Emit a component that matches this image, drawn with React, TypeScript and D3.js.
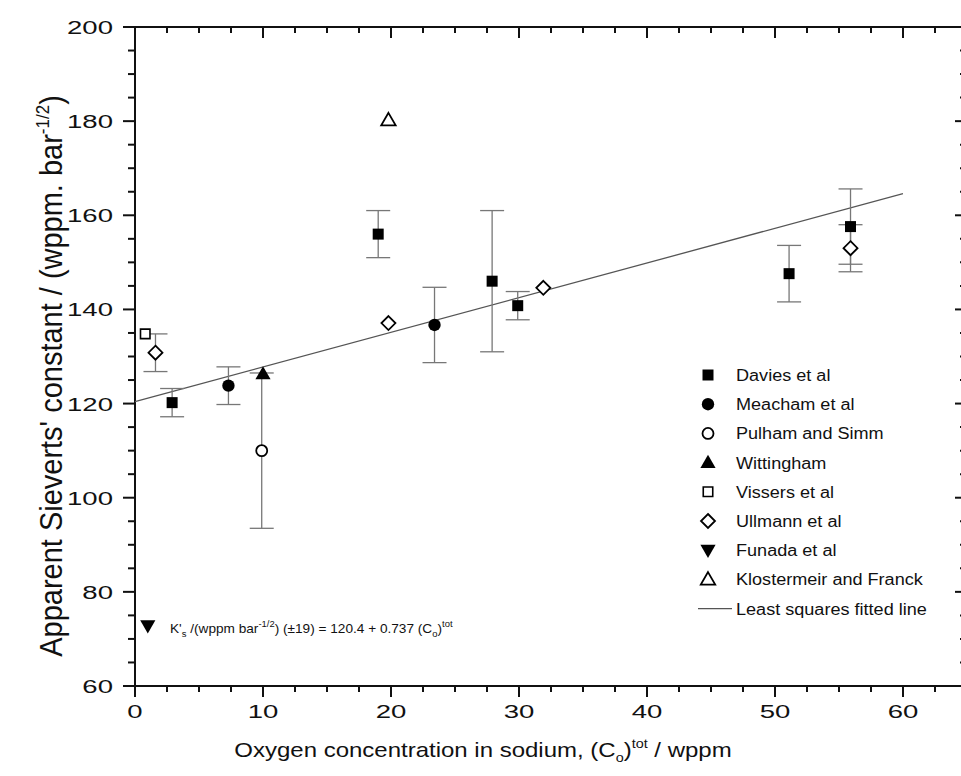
import React from "react"
import * as d3 from "d3"

// values
const daviesX = [2.9, 19, 27.9, 29.9, 51.1, 55.9]
const daviesY = [120.2, 156, 146, 140.8, 147.6, 157.6]
const daviesErr = [3, 5, 15, 3, 6, 8]

const meachamX = [7.3, 23.4]
const meachamY = [123.8, 136.7]
const meachamErr = [4, 8]

const pulhamX = [9.9]
const pulhamY = [110]
const pulhamErr = [16.5]

const wittinghamX = [10]
const wittinghamY = [126.3]

const vissersX = [0.8]
const vissersY = [134.8]

const ullmannX = [1.6, 19.8, 31.9, 55.9]
const ullmannY = [130.8, 137.1, 144.6, 153]
const ullmannErr = [4, 0, 0, 5]

const funadaX = [1.0]
const funadaY = [72.8]

const klosterX = [19.8]
const klosterY = [180.2]

const fitX = [0, 60]
const fitY = [120.4, 164.6]

const legendLabels = [
    "Davies et al",
    "Meacham et al",
    "Pulham and Simm",
    "Wittingham",
    "Vissers et al",
    "Ullmann et al",
    "Funada et al",
    "Klostermeir and Franck",
    "Least squares fitted line",
]

const xMajor = [0, 10, 20, 30, 40, 50, 60]
const yMajor = [60, 80, 100, 120, 140, 160, 180, 200]

const FONT = "'Liberation Sans', Arial, sans-serif"

const x = d3.scaleLinear().domain([0, 65]).range([135, 967])
const y = d3.scaleLinear().domain([60, 200]).range([686, 27])

const sq = d3.symbol().type(d3.symbolSquare).size(121)()
const circ = d3.symbol().type(d3.symbolCircle).size(120)()
const tri = d3.symbol().type(d3.symbolTriangle).size(100)()
const diam = "M0,-7L7,0L0,7L-7,0Z"

type MarkerKind = "sq" | "circ" | "ocirc" | "tri" | "osq" | "diam" | "dtri" | "otri"

function Marker({ kind, cx, cy }: { kind: MarkerKind, cx: number, cy: number }) {
    const t = `translate(${cx},${cy})`
    switch (kind) {
        case "sq": return <path d={sq} transform={t} fill="#000" />
        case "circ": return <path d={circ} transform={t} fill="#000" />
        case "ocirc": return <path d={d3.symbol().type(d3.symbolCircle).size(95)()} transform={t} fill="#fff" stroke="#000" strokeWidth={1.8} />
        case "tri": return <path d={tri} transform={t + " translate(0,1)"} fill="#000" />
        case "osq": return <path d={d3.symbol().type(d3.symbolSquare).size(90)()} transform={t} fill="#fff" stroke="#000" strokeWidth={1.6} />
        case "diam": return <path d={diam} transform={t} fill="#fff" stroke="#000" strokeWidth={1.8} />
        case "dtri": return <path d={tri} transform={t + " rotate(180) translate(0,1)"} fill="#000" />
        case "otri": return <path d={d3.symbol().type(d3.symbolTriangle).size(90)()} transform={t + " translate(0,1)"} fill="#fff" stroke="#000" strokeWidth={1.8} />
    }
}

function ErrorBars({ xs, ys, errs }: { xs: number[], ys: number[], errs: number[] }) {
    return (
        <g stroke="#777" strokeWidth={1.3} fill="none">
            {xs.map((d, i) => {
                if (!errs[i]) return null
                const px = x(d)
                const top = y(ys[i] + errs[i])
                const bot = y(ys[i] - errs[i])
                return (
                    <g key={i}>
                        <line x1={px} x2={px} y1={top} y2={bot} />
                        <line x1={px - 12} x2={px + 12} y1={top} y2={top} />
                        <line x1={px - 12} x2={px + 12} y1={bot} y2={bot} />
                    </g>
                )
            })}
        </g>
    )
}

function Series({ xs, ys, kind }: { xs: number[], ys: number[], kind: MarkerKind }) {
    return <g>{xs.map((d, i) => <Marker key={i} kind={kind} cx={x(d)} cy={y(ys[i])} />)}</g>
}

export default function App() {
    const xMinor = d3.range(0, 65.01, 2.5).filter(v => v % 10 !== 0)
    const yMinor = d3.range(60, 200.01, 5).filter(v => v % 20 !== 0)
    const fitLine = d3.line<number>().x(d => x(d)).y((d, i) => y(fitY[i]))
    const legendKinds: MarkerKind[] = ["sq", "circ", "ocirc", "tri", "osq", "diam", "dtri", "otri"]
    const x0 = x(0), x1 = x(65), y0 = y(60), y1 = y(200)

    return (
        <svg width={961} height={776} style={{ position: "absolute", left: 0, top: 0, background: "#fff" }}
            fontFamily={FONT}>
            <rect width={961} height={776} fill="#fff" />

            {/* frame */}
            <g stroke="#111" strokeWidth={2} fill="none">
                <line x1={x0} x2={x0} y1={y1 - 1} y2={y0 + 1} />
                <line x1={x0 - 1} x2={x1} y1={y0} y2={y0} />
                <line x1={x0} x2={x1} y1={y1} y2={y1} />
                <line x1={x1} x2={x1} y1={y1} y2={y0} />
                {xMajor.map(v => <g key={"xm" + v}>
                    <line x1={x(v)} x2={x(v)} y1={y0} y2={y0 + 11} />
                    <line x1={x(v)} x2={x(v)} y1={y1} y2={y1 + 11} />
                </g>)}
                {xMinor.map(v => <g key={"xn" + v}>
                    <line x1={x(v)} x2={x(v)} y1={y0} y2={y0 + 6} />
                    <line x1={x(v)} x2={x(v)} y1={y1} y2={y1 + 6} />
                </g>)}
                {yMajor.map(v => <g key={"ym" + v}>
                    <line x1={x0 - 12} x2={x0} y1={y(v)} y2={y(v)} />
                    <line x1={x1 - 12} x2={x1} y1={y(v)} y2={y(v)} />
                </g>)}
                {yMinor.map(v => <g key={"yn" + v}>
                    <line x1={x0 - 7} x2={x0} y1={y(v)} y2={y(v)} />
                    <line x1={x1 - 7} x2={x1} y1={y(v)} y2={y(v)} />
                </g>)}
            </g>

            {/* tick labels */}
            <g fontSize={19} fill="#111">
                {yMajor.map(v => (
                    <text key={"yl" + v} transform={`translate(${x0 - 22},${y(v) + 7}) scale(1.45,1)`} textAnchor="end">{v}</text>
                ))}
                {xMajor.map(v => (
                    <text key={"xl" + v} transform={`translate(${x(v)},${y0 + 32}) scale(1.45,1)`} textAnchor="middle">{v}</text>
                ))}
            </g>

            {/* axis titles */}
            <text transform={`translate(483,757) scale(1.2,1)`} textAnchor="middle" fontSize={20} fill="#111">
                Oxygen concentration in sodium, (C<tspan fontSize={12} dy={5}>o</tspan><tspan dy={-5}>)</tspan><tspan fontSize={12} dy={-9}>tot</tspan><tspan dy={9}> / wppm</tspan>
            </text>
            <text transform={`translate(62,376) scale(1.05,1) rotate(-90)`} textAnchor="middle" fontSize={29} fill="#111">
                Apparent Sieverts' constant / (wppm. bar<tspan fontSize={17} dy={-12}>-1/2</tspan><tspan dy={12}>)</tspan>
            </text>

            {/* fitted line */}
            <path d={fitLine(fitX) ?? ""} stroke="#555" strokeWidth={1.3} fill="none" />

            {/* error bars */}
            <ErrorBars xs={daviesX} ys={daviesY} errs={daviesErr} />
            <ErrorBars xs={meachamX} ys={meachamY} errs={meachamErr} />
            <ErrorBars xs={pulhamX} ys={pulhamY} errs={pulhamErr} />
            <ErrorBars xs={ullmannX} ys={ullmannY} errs={ullmannErr} />

            {/* points */}
            <Series xs={ullmannX} ys={ullmannY} kind="diam" />
            <Series xs={vissersX} ys={vissersY} kind="osq" />
            <Series xs={pulhamX} ys={pulhamY} kind="ocirc" />
            <Series xs={daviesX} ys={daviesY} kind="sq" />
            <Series xs={meachamX} ys={meachamY} kind="circ" />
            <Series xs={wittinghamX} ys={wittinghamY} kind="tri" />
            <Series xs={funadaX} ys={funadaY} kind="dtri" />
            <Series xs={klosterX} ys={klosterY} kind="otri" />

            {/* equation */}
            <text transform="translate(170,633) scale(1.05,1)" fontSize={13} fill="#111">
                K'<tspan fontSize={9} dy={4}>s</tspan><tspan dy={-4}> /(wppm bar</tspan><tspan fontSize={9} dy={-6}>-1/2</tspan><tspan dy={6}>) (±19) = 120.4 + 0.737 (C</tspan><tspan fontSize={9} dy={4}>o</tspan><tspan dy={-4}>)</tspan><tspan fontSize={9} dy={-6}>tot</tspan>
            </text>

            {/* legend */}
            <g fontSize={16} fill="#111">
                {legendLabels.map((lab, i) => {
                    const ly = 375 + i * 29.2
                    return (
                        <g key={lab}>
                            {i < legendKinds.length
                                ? <Marker kind={legendKinds[i]} cx={708} cy={ly} />
                                : <line x1={698} x2={732} y1={ly} y2={ly} stroke="#555" strokeWidth={1.3} />}
                            <text transform={`translate(736,${ly + 6}) scale(1.13,1)`}>{lab}</text>
                        </g>
                    )
                })}
            </g>
        </svg>
    )
}
